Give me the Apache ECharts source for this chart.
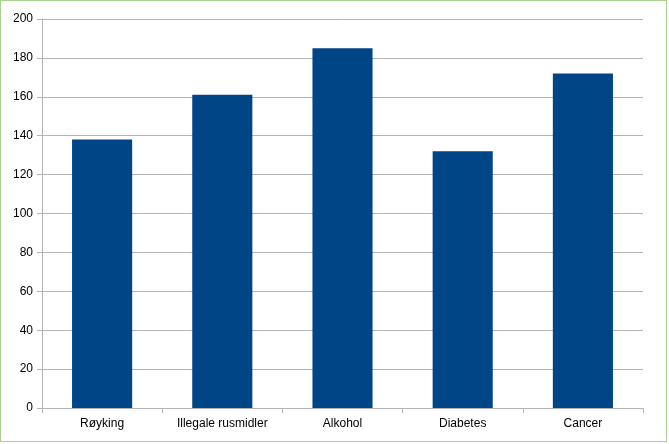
<!DOCTYPE html>
<html><head><meta charset="utf-8">
<script src="https://cdn.jsdelivr.net/npm/echarts@6/dist/echarts.min.js"></script>
<style>
html,body{margin:0;padding:0;background:#fff;}
#frame{position:absolute;left:0;top:0;width:665px;height:440px;border:1px solid #a9d18e;}
#c{position:absolute;left:0;top:0;width:669px;height:444px;}
</style></head>
<body>
<div id="frame"></div>
<div id="c"></div>
<script>
const categories = ["Røyking", "Illegale rusmidler", "Alkohol", "Diabetes", "Cancer"];
const values = [138, 161, 185, 132, 172];
const chart = echarts.init(document.getElementById('c'));
chart.setOption({
  animation: false,
  grid: {left: 42, right: 26, top: 19, bottom: 36, containLabel: false},
  xAxis: {
    type: 'category', data: categories,
    axisLine: {lineStyle: {color: '#b3b3b3'}},
    axisTick: {show: true, length: 5, lineStyle: {color: '#b3b3b3'}},
    axisLabel: {color: '#000', fontFamily: 'Liberation Sans', fontSize: 12, margin: 10}
  },
  yAxis: {
    type: 'value', min: 0, max: 200, interval: 20,
    axisLine: {show: true, lineStyle: {color: '#b3b3b3'}},
    axisTick: {show: true, length: 5, lineStyle: {color: '#b3b3b3'}},
    splitLine: {lineStyle: {color: '#b3b3b3'}},
    axisLabel: {color: '#000', fontFamily: 'Liberation Sans', fontSize: 12, margin: 9}
  },
  series: [{
    type: 'bar', data: values, barWidth: '50%',
    itemStyle: {color: '#004586', borderColor: '#3a6fa3', borderWidth: 0}
  }]
});
</script>
</body></html>
